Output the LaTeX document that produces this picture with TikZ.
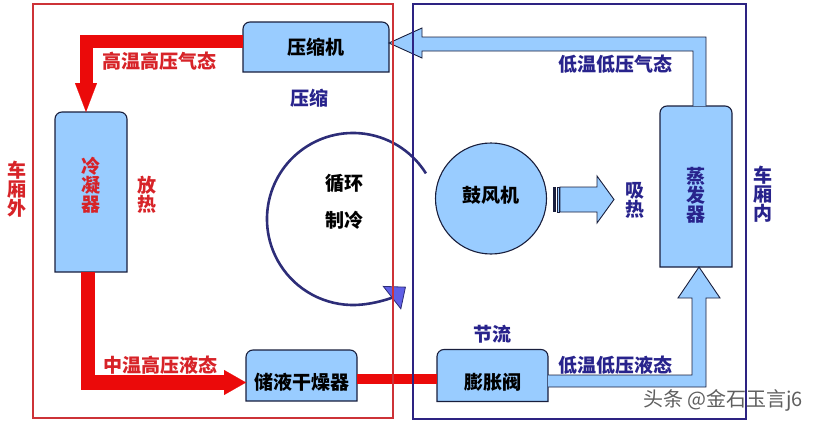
\documentclass[tikz,border=0pt]{standalone}
\usepackage{fontspec}
\setmainfont{Noto Sans CJK SC}
\usetikzlibrary{arrows.meta}

\definecolor{unitfill}{RGB}{153,204,255}
\definecolor{unitline}{RGB}{25,30,60}
\definecolor{hotred}{RGB}{235,10,10}
\definecolor{redtxt}{RGB}{215,35,40}
\definecolor{navytxt}{RGB}{40,35,140}
\definecolor{redframe}{RGB}{205,50,55}
\definecolor{navyframe}{RGB}{45,35,130}
\definecolor{cycline}{RGB}{45,45,120}
\definecolor{cycfill}{RGB}{95,95,230}
\definecolor{markgray}{RGB}{95,95,95}

\begin{document}
\begin{tikzpicture}[x=1pt,y=-1pt,
    lbl/.style={font=\bfseries\fontsize{19}{19}\selectfont,inner sep=0pt},
    redlbl/.style={lbl,text=redtxt},
    navylbl/.style={lbl,text=navytxt},
    blklbl/.style={lbl,text=black},
    stack/.style={align=center},
    unit/.style={inner sep=0pt,outer sep=0pt},
    unitdraw/.style={fill=unitfill,draw=unitline,line width=1.1pt},
    redpipe/.style={draw=hotred,line join=miter},
    bluepipe/.style={fill=unitfill,draw=unitline,line width=0.9pt,line join=miter},
    cyclearrow/.style={draw=cycline,line width=2.6pt,
        -{Triangle[length=18pt,width=30pt,fill=cycfill,line width=0.8pt]}}]
            \useasboundingbox (0,0) rectangle (820,423);

            \node[unit,minimum width=146pt,minimum height=50pt] (comp) at (316,47) {};
            \node[unit,minimum width=72pt,minimum height=160pt] (cond) at (91,192) {};
            \node[unit,minimum width=111pt,minimum height=51pt] (drier) at (301.5,375.5) {};
            \node[unit,minimum width=111pt,minimum height=52pt] (valve) at (492.5,375.5) {};
            \node[unit,minimum width=72pt,minimum height=161pt] (evap) at (696,186.5) {};

            \foreach \n in {comp,cond,drier,valve,evap}
                \filldraw[unitdraw] (\n.south west) [rounded corners=7pt] -- (\n.north west)
                    -- (\n.north east) [sharp corners] -- (\n.south east) -- cycle;

            \node[unitdraw,circle,minimum size=111pt,inner sep=0pt] (fan) at (491,198.5) {};

            \node[blklbl] (comp_txt) at (comp) {压缩机};
            \node[redlbl,stack] (cond_txt) at ([yshift=7pt]cond.center) {冷\\凝\\器};
            \node[blklbl] (drier_txt) at ([yshift=-6.5pt]drier.center) {储液干燥器};
            \node[blklbl] (valve_txt) at ([yshift=-6.5pt]valve.center) {膨胀阀};
            \node[navylbl,stack] (evap_txt) at ([yshift=-8.5pt]evap.center) {蒸\\发\\器};
            \node[blklbl] (fan_txt) at ([yshift=3pt]fan.center) {鼓风机};

            % hot side
            \draw[redpipe,line width=13pt,-{Triangle[length=29pt,width=22pt,line width=0.1pt]}]
                ([yshift=5.5pt]comp.west) -| ([xshift=-5pt]cond.north);
            \draw[redpipe,line width=14.5pt,-{Triangle[length=22pt,width=25pt,line width=0.1pt]}]
                ([xshift=-3pt]cond.south) |- ([yshift=-7pt]drier.west);
            \draw[redpipe,line width=10pt] ([yshift=-3.5pt]drier.east) -- ([yshift=-3.5pt]valve.west);

            % cold side
            \filldraw[bluepipe] (valve.east |- 0,375) -- (692,375) -- (692,298) -- (678,298)
                -- ([xshift=3pt]evap.south) -- (720,298) -- (706,298) -- (706,387) -- (valve.east |- 0,387);
            \filldraw[bluepipe] (evap.north -| 693,0) -- (693,51) -- (422,51) -- (422,58)
                -- ([yshift=4pt]comp.east) -- (422,28) -- (422,37) -- (706,37) -- (evap.north -| 706,0);

            % blower air
            \fill[unitline] (553,187) rectangle (555.5,212);
            \filldraw[bluepipe] (557,187) rectangle (559,212);
            \filldraw[bluepipe] (560,187) -- (597,187) -- (597,176) -- (614,199.5)
                -- (597,223) -- (597,212) -- (560,212) -- cycle;

            \node[redlbl] (hot_gas) at (159,61) {高温高压气态};
            \node[redlbl] (warm_liq) at (160,365) {中温高压液态};
            \node[navylbl] (cold_gas) at (615,64) {低温低压气态};
            \node[navylbl] (cold_liq) at (615,365) {低温低压液态};
            \node[navylbl] (compress) at (309,98) {压缩};
            \node[navylbl] (throttle) at (492,334) {节流};
            \node[redlbl,stack] (release) at (147,195) {放\\热};
            \node[navylbl,stack] (absorb) at (635,200) {吸\\热};
            \node[redlbl,stack] (outside) at (17,189) {车\\厢\\外};
            \node[navylbl,stack] (inside) at (763,194) {车\\厢\\内};
            \node[blklbl] (cycle_a) at (344,183) {循环};
            \node[blklbl] (cycle_b) at (344,220) {制冷};

            \coordinate (cyc) at (353,219);
            \draw[cyclearrow] (cyc) ++(32:86pt) arc[start angle=32,end angle=308,radius=86pt];

            \draw[redframe,line width=1.6pt] (33,4) rectangle (393,418);
            \draw[navyframe,line width=1.8pt] (413,4) rectangle (746,419);

            \node[font=\fontsize{20}{20}\selectfont,text=markgray,inner sep=0pt] (mark) at (723,400) {头条 @金石玉言j6};
        \end{tikzpicture}
\end{document}
